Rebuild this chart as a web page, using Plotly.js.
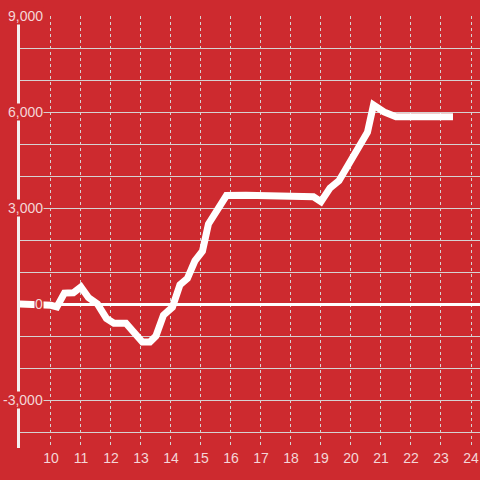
<!DOCTYPE html>
<html>
<head>
<meta charset="utf-8">
<script src="https://cdn.plot.ly/plotly-3.0.1.min.js"></script>
<style>html,body{margin:0;padding:0;background:#cd2a2f;}#chart{width:480px;height:480px;}</style>
</head>
<body>
<div id="chart"></div>
<script>
// hour of day
const hours = [8.9, 9.5, 10.0, 10.2, 10.45, 10.75, 11.0, 11.25, 11.55, 11.85, 12.1, 12.5, 12.95, 13.05, 13.3, 13.5, 13.75, 14.05, 14.3, 14.55, 14.8, 15.05, 15.25, 15.55, 15.85, 16.5, 17.5, 18.5, 18.75, 19.0, 19.3, 19.6, 19.9, 20.2, 20.55, 20.75, 21.1, 21.5, 22.5, 23.4];
// cumulative value
const values = [0, 0, -40, -90, 340, 350, 530, 200, 0, -450, -600, -600, -1150, -1190, -1190, -1000, -350, -100, 600, 800, 1350, 1650, 2500, 2950, 3390, 3400, 3400, 3400, 3350, 3200, 3620, 3850, 4300, 4800, 5370, 6220, 6000, 5850, 5850, 5850];
const xTicks = [10, 11, 12, 13, 14, 15, 16, 17, 18, 19, 20, 21, 22, 23, 24];
const yTickVals = [9000, 6000, 3000, 0, -3000];
const yTickText = ["9,000", "6,000", "3,000", "0", "-3,000"];

const bg = "#cd2a2f";
const txt = "#f4d6d7";
const grid = "#d6d2d2";

const annotations = yTickVals.map((v, i) => ({
  xref: "paper", yref: "y", x: 0.052, y: v, xanchor: "right", yanchor: "middle",
  text: yTickText[i], showarrow: false, bgcolor: bg, borderpad: 0,
  font: {family: "Liberation Sans, Arial, sans-serif", size: 14, color: txt}
}));

Plotly.newPlot("chart", [{
  x: hours, y: values, type: "scatter", mode: "lines",
  line: {color: "#ffffff", width: 7, shape: "linear"},
  hoverinfo: "none"
}], {
  width: 480, height: 480,
  margin: {l: 20, r: 0, t: 16, b: 32},
  paper_bgcolor: bg, plot_bgcolor: bg,
  showlegend: false,
  font: {family: "Liberation Sans, Arial, sans-serif", size: 14, color: txt},
  xaxis: {
    range: [8.97, 24.3], tickvals: xTicks, ticktext: xTicks.map(String),
    showgrid: true, gridcolor: grid, gridwidth: 1, griddash: "dot",
    zeroline: false, showline: false, ticks: "",
    tickfont: {size: 14, color: txt}
  },
  yaxis: {
    range: [-4500, 9000], dtick: 1000, tick0: 0,
    showgrid: true, gridcolor: grid, gridwidth: 1,
    zeroline: true, zerolinecolor: "#ffffff", zerolinewidth: 3,
    showline: true, linecolor: "#f4f0f0", linewidth: 3,
    showticklabels: false, ticks: ""
  },
  annotations: annotations
}, {displayModeBar: false, staticPlot: true});
</script>
</body>
</html>
